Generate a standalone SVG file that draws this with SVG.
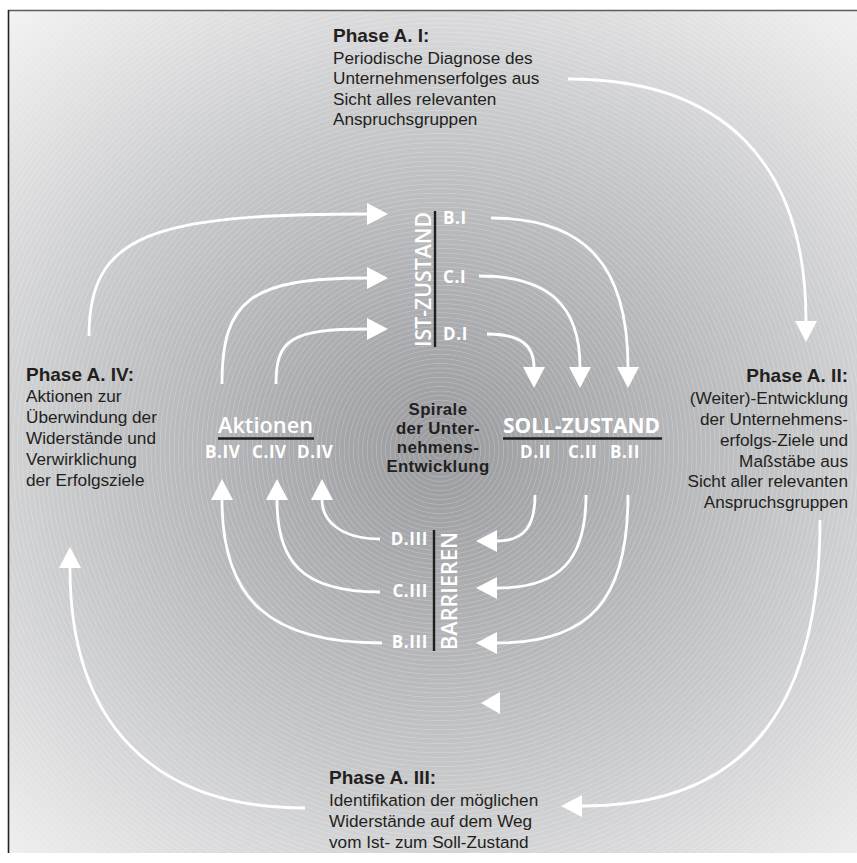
<svg xmlns="http://www.w3.org/2000/svg" width="857" height="863" viewBox="0 0 857 863">
  <defs>
    <radialGradient id="bgGrad" gradientUnits="userSpaceOnUse" cx="440" cy="450" r="620" gradientTransform="translate(440 450) scale(1.12 1) translate(-440 -450)">
      <stop offset="0" stop-color="#9a9b9f"/>
      <stop offset="0.25" stop-color="#aeafb2"/>
      <stop offset="0.55" stop-color="#c9cacc"/>
      <stop offset="0.8" stop-color="#e4e4e5"/>
      <stop offset="1" stop-color="#f8f8f8"/>
    </radialGradient>
    <radialGradient id="rings" gradientUnits="userSpaceOnUse" cx="440" cy="450" r="4.6" spreadMethod="repeat">
      <stop offset="0" stop-color="#ffffff" stop-opacity="0"/>
      <stop offset="0.65" stop-color="#ffffff" stop-opacity="0"/>
      <stop offset="0.82" stop-color="#ffffff" stop-opacity="0.22"/>
      <stop offset="1" stop-color="#ffffff" stop-opacity="0"/>
    </radialGradient>
    <marker id="head" markerUnits="userSpaceOnUse" markerWidth="22" markerHeight="22" refX="0" refY="11" orient="auto" overflow="visible">
      <path d="M0,0 L21,11 L0,22 Z" fill="#ffffff"/>
    </marker>
  </defs>
  <style>
    .conn { fill: none; stroke: #ffffff; stroke-width: 2.8; marker-end: url(#head); }
    .ph { font-family: "Liberation Sans", Arial, sans-serif; font-weight: 700; font-size: 19px; fill: #231f20; }
    .body { font-family: "Liberation Sans", Arial, sans-serif; font-weight: 400; font-size: 17.2px; fill: #231f20; }
    .lbl { font-family: "Open Sans", "Liberation Sans", sans-serif; font-weight: 700; font-size: 17px; letter-spacing: 0.6px; fill: #ffffff; }
    .big { font-family: "Open Sans", "Liberation Sans", sans-serif; font-weight: 700; font-size: 21px; fill: #ffffff; }
    .mid { font-family: "Open Sans", "Liberation Sans", sans-serif; font-weight: 600; font-size: 21px; fill: #ffffff; }
    .ctr { font-family: "Liberation Sans", Arial, sans-serif; font-weight: 700; font-size: 16.8px; letter-spacing: 0.4px; fill: #231f20; text-anchor: middle; }
    .rule { stroke: #1e1e1e; stroke-width: 2.4; }
  </style>

  <!-- backdrop with concentric ring texture -->
  <rect x="0" y="0" width="857" height="863" fill="#ffffff"/>
  <rect x="8" y="10" width="849" height="843" fill="url(#bgGrad)"/>
  <rect x="8" y="10" width="849" height="843" fill="url(#rings)"/>
  <line x1="8" y1="10.5" x2="857" y2="10.5" stroke="#5c5c5c" stroke-width="1.6"/>
  <line x1="8.5" y1="10" x2="8.5" y2="853" stroke="#222222" stroke-width="1.6"/>

  <!-- spiral connectors -->
  <g id="connectors">
    <path class="conn" d="M568,79 C720,79 806,160 806,321"/>
    <path class="conn" d="M820,520 C820,690 760,806 582,806"/>
    <path class="conn" d="M305,808 C150,808 70,720 70,568"/>
    <path class="conn" d="M89,336 C89,235 150,214 367,214"/>

    <path class="conn" d="M491,218 C580,218 628,260 628,367"/>
    <path class="conn" d="M628,495 C628,600 590,643 497,643"/>
    <path class="conn" d="M382,643 C270,643 222,600 222,500"/>
    <path class="conn" d="M222,384 C222,300 250,278 367,278"/>

    <path class="conn" d="M479,276 C548,276 580,305 580,367"/>
    <path class="conn" d="M586,495 C586,560 560,588 497,588"/>
    <path class="conn" d="M380,592 C300,592 277,560 277,500"/>
    <path class="conn" d="M276,384 C276,340 290,329 367,329"/>

    <path class="conn" d="M487,334 C520,334 534,345 534,367"/>
    <path class="conn" d="M535,495 C535,525 525,541 497,541"/>
    <path class="conn" d="M380,539 C340,539 322,520 322,500"/>

    <path d="M500,692 L481,703 L500,714 Z" fill="#ffffff"/>
  </g>

  <!-- outer phases -->
  <g id="phase-a1">
    <text class="ph" x="333" y="42">Phase A. I:</text>
    <text class="body" x="333" y="63.5">Periodische Diagnose des</text>
    <text class="body" x="333" y="84">Unternehmenserfolges aus</text>
    <text class="body" x="333" y="104.5">Sicht alles relevanten</text>
    <text class="body" x="333" y="125">Anspruchsgruppen</text>
  </g>
  <g id="phase-a2" text-anchor="end">
    <text class="ph" x="848" y="382">Phase A. II:</text>
    <text class="body" x="848" y="404">(Weiter)-Entwicklung</text>
    <text class="body" x="848" y="425">der Unternehmens-</text>
    <text class="body" x="848" y="446">erfolgs-Ziele und</text>
    <text class="body" x="848" y="466.5">Maßstäbe aus</text>
    <text class="body" x="848" y="487">Sicht aller relevanten</text>
    <text class="body" x="848" y="507.5">Anspruchsgruppen</text>
  </g>
  <g id="phase-a3">
    <text class="ph" x="329" y="784">Phase A. III:</text>
    <text class="body" x="329" y="805.5">Identifikation der möglichen</text>
    <text class="body" x="329" y="827">Widerstände auf dem Weg</text>
    <text class="body" x="329" y="848">vom Ist- zum Soll-Zustand</text>
  </g>
  <g id="phase-a4">
    <text class="ph" x="26" y="381">Phase A. IV:</text>
    <text class="body" x="26" y="402">Aktionen zur</text>
    <text class="body" x="26" y="423">Überwindung der</text>
    <text class="body" x="26" y="444">Widerstände und</text>
    <text class="body" x="26" y="465">Verwirklichung</text>
    <text class="body" x="26" y="486">der Erfolgsziele</text>
  </g>

  <!-- inner stations -->
  <g id="ist-zustand">
    <text class="mid" transform="translate(431 347) rotate(-90)" textLength="135" lengthAdjust="spacingAndGlyphs">IST-ZUSTAND</text>
    <line class="rule" x1="435" y1="211" x2="435" y2="347"/>
    <text class="lbl" x="443" y="224">B.I</text>
    <text class="lbl" x="443" y="283">C.I</text>
    <text class="lbl" x="443" y="340">D.I</text>
  </g>
  <g id="soll-zustand">
    <text class="big" x="503" y="433" textLength="157" lengthAdjust="spacingAndGlyphs">SOLL-ZUSTAND</text>
    <line class="rule" x1="503" y1="438.5" x2="662" y2="438.5"/>
    <text class="lbl" x="520" y="458">D.II</text>
    <text class="lbl" x="568" y="458">C.II</text>
    <text class="lbl" x="610" y="458">B.II</text>
  </g>
  <g id="barrieren">
    <text class="mid" transform="translate(457 650) rotate(-90)" textLength="118" lengthAdjust="spacingAndGlyphs">BARRIEREN</text>
    <line class="rule" x1="434" y1="530" x2="434" y2="651"/>
    <text class="lbl" x="428" y="545" text-anchor="end">D.III</text>
    <text class="lbl" x="428" y="597" text-anchor="end">C.III</text>
    <text class="lbl" x="428" y="648" text-anchor="end">B.III</text>
  </g>
  <g id="aktionen">
    <text class="mid" x="218" y="433" textLength="95" lengthAdjust="spacingAndGlyphs">Aktionen</text>
    <line class="rule" x1="218" y1="438.5" x2="314" y2="438.5"/>
    <text class="lbl" x="205" y="458">B.IV</text>
    <text class="lbl" x="252" y="458">C.IV</text>
    <text class="lbl" x="297" y="458">D.IV</text>
  </g>
  <g id="center">
    <text class="ctr" x="438" y="415">Spirale</text>
    <text class="ctr" x="438" y="434">der Unter-</text>
    <text class="ctr" x="438" y="453">nehmens-</text>
    <text class="ctr" x="438" y="472">Entwicklung</text>
  </g>
</svg>
